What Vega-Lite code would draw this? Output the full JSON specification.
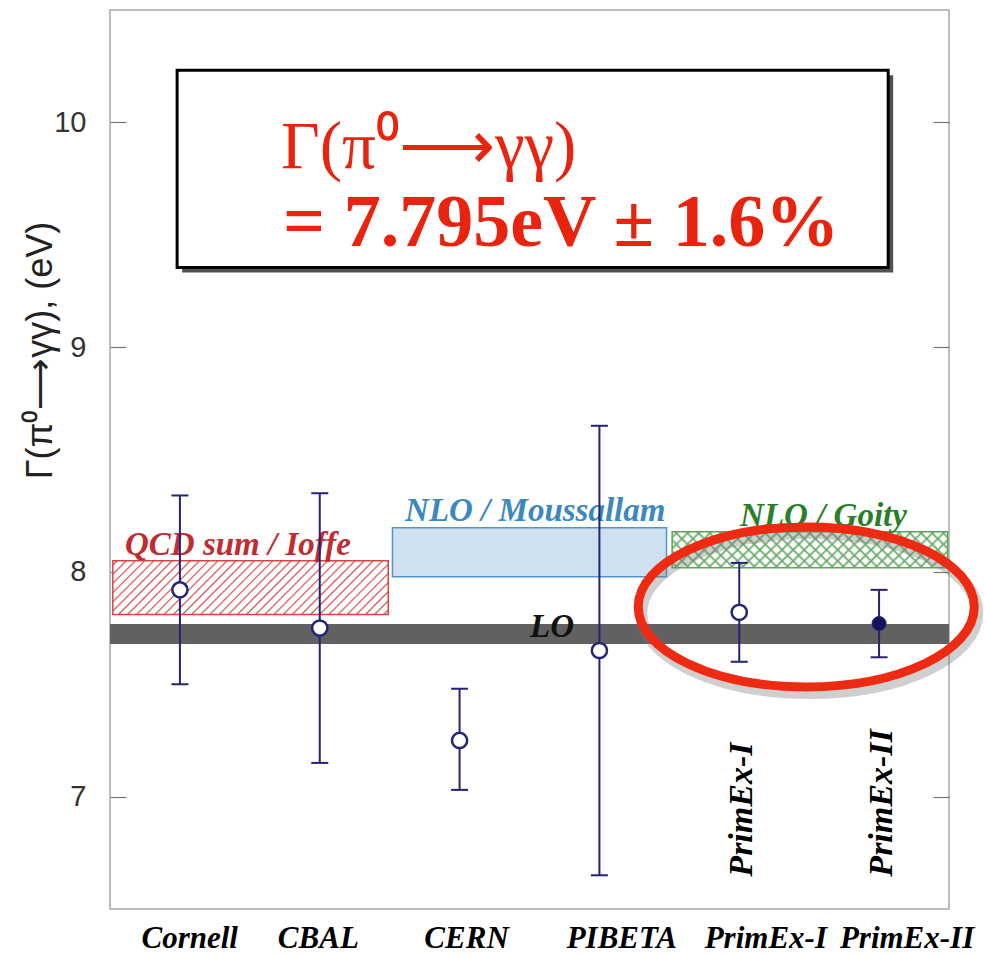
{
  "$schema": "https://vega.github.io/schema/vega-lite/v6.json",
  "width": 839,
  "height": 899,
  "autosize": {"type": "none"},
  "padding": {"left": 110, "top": 10, "right": 35, "bottom": 48},
  "background": "white",
  "config": {"view": {"stroke": "#a8a8a8", "strokeWidth": 1.5}},
  "datasets": {
    "meas": [
      {"exp": "Cornell", "x": 1, "y": 7.92, "lo": 7.5, "hi": 8.34},
      {"exp": "CBAL", "x": 2, "y": 7.75, "lo": 7.15, "hi": 8.35},
      {"exp": "CERN", "x": 3, "y": 7.25, "lo": 7.03, "hi": 7.48},
      {"exp": "PIBETA", "x": 4, "y": 7.65, "lo": 6.65, "hi": 8.65},
      {"exp": "PrimEx-I", "x": 5, "y": 7.82, "lo": 7.6, "hi": 8.04},
      {"exp": "PrimEx-II", "x": 6, "y": 7.77, "lo": 7.62, "hi": 7.92}
    ],
    "bands": [
      {"name": "QCD", "x": 0.52, "x2": 2.49, "y": 8.05, "y2": 7.81},
      {"name": "Moussallam", "x": 2.52, "x2": 4.48, "y": 8.196, "y2": 7.978},
      {"name": "Goity", "x": 4.52, "x2": 6.49, "y": 8.178, "y2": 8.018},
      {"name": "LO", "x": 0.5, "x2": 6.5, "y": 7.768, "y2": 7.679}
    ],
    "bandlabels": [
      {"name": "QCD", "text": "QCD sum / Ioffe", "x": 0.607, "y": 8.076},
      {"name": "Moussallam", "text": "NLO / Moussallam", "x": 2.61, "y": 8.227},
      {"name": "Goity", "text": "NLO / Goity", "x": 5.006, "y": 8.205},
      {"name": "LO", "text": "LO", "x": 3.504, "y": 7.71}
    ],
    "xlabels": [
      {"label": "Cornell", "x": 1.07, "y": 6.327},
      {"label": "CBAL", "x": 1.99, "y": 6.327},
      {"label": "CERN", "x": 3.05, "y": 6.327},
      {"label": "PIBETA", "x": 4.16, "y": 6.327},
      {"label": "PrimEx-I", "x": 5.19, "y": 6.327},
      {"label": "PrimEx-II", "x": 6.2, "y": 6.327}
    ],
    "vlabels": [
      {"label": "PrimEx-I", "x": 5.02, "y": 6.644},
      {"label": "PrimEx-II", "x": 6.02, "y": 6.644}
    ],
    "box": [{"x": 0.98, "x2": 6.065, "y": 10.232, "y2": 9.354}],
    "boxtext": [
      {"line": 1, "text": "Γ(π⁰⟶γγ)", "x": 1.723, "y": 9.795},
      {"line": 2, "text": "= 7.795eV ± 1.6%", "x": 1.737, "y": 9.452}
    ],
    "ellipse": [{"x": 5.479, "y": 7.844}]
  },
  "resolve": {"axis": {"y": "independent"}},
  "encoding": {
    "x": {"field": "x", "type": "quantitative", "scale": {"domain": [0.5, 6.5], "nice": false, "zero": false}, "axis": null},
    "y": {"field": "y", "type": "quantitative", "scale": {"domain": [6.5, 10.5], "nice": false, "zero": false}, "axis": null},
    "x2": {"field": "x2"},
    "y2": {"field": "y2"}
  },
  "layer": [
    {
      "data": {"name": "bands"},
      "transform": [{"filter": "datum.name === 'QCD'"}],
      "mark": {"type": "rect", "stroke": "#d84444", "strokeWidth": 1.5,
        "fill": {"gradient": "linear", "x1": 0, "y1": 0, "x2": 1.1515, "y2": 0.2253, "stops": [
          {"offset": 0.0089, "color": "#ffffff"}, {"offset": 0.0139, "color": "#dc4a4a"}, {"offset": 0.0189, "color": "#ffffff"},
          {"offset": 0.0367, "color": "#ffffff"}, {"offset": 0.0417, "color": "#dc4a4a"}, {"offset": 0.0467, "color": "#ffffff"},
          {"offset": 0.0644, "color": "#ffffff"}, {"offset": 0.0694, "color": "#dc4a4a"}, {"offset": 0.0744, "color": "#ffffff"},
          {"offset": 0.0922, "color": "#ffffff"}, {"offset": 0.0972, "color": "#dc4a4a"}, {"offset": 0.1022, "color": "#ffffff"},
          {"offset": 0.1200, "color": "#ffffff"}, {"offset": 0.1250, "color": "#dc4a4a"}, {"offset": 0.1300, "color": "#ffffff"},
          {"offset": 0.1478, "color": "#ffffff"}, {"offset": 0.1528, "color": "#dc4a4a"}, {"offset": 0.1578, "color": "#ffffff"},
          {"offset": 0.1756, "color": "#ffffff"}, {"offset": 0.1806, "color": "#dc4a4a"}, {"offset": 0.1856, "color": "#ffffff"},
          {"offset": 0.2033, "color": "#ffffff"}, {"offset": 0.2083, "color": "#dc4a4a"}, {"offset": 0.2133, "color": "#ffffff"},
          {"offset": 0.2311, "color": "#ffffff"}, {"offset": 0.2361, "color": "#dc4a4a"}, {"offset": 0.2411, "color": "#ffffff"},
          {"offset": 0.2589, "color": "#ffffff"}, {"offset": 0.2639, "color": "#dc4a4a"}, {"offset": 0.2689, "color": "#ffffff"},
          {"offset": 0.2867, "color": "#ffffff"}, {"offset": 0.2917, "color": "#dc4a4a"}, {"offset": 0.2967, "color": "#ffffff"},
          {"offset": 0.3144, "color": "#ffffff"}, {"offset": 0.3194, "color": "#dc4a4a"}, {"offset": 0.3244, "color": "#ffffff"},
          {"offset": 0.3422, "color": "#ffffff"}, {"offset": 0.3472, "color": "#dc4a4a"}, {"offset": 0.3522, "color": "#ffffff"},
          {"offset": 0.3700, "color": "#ffffff"}, {"offset": 0.3750, "color": "#dc4a4a"}, {"offset": 0.3800, "color": "#ffffff"},
          {"offset": 0.3978, "color": "#ffffff"}, {"offset": 0.4028, "color": "#dc4a4a"}, {"offset": 0.4078, "color": "#ffffff"},
          {"offset": 0.4256, "color": "#ffffff"}, {"offset": 0.4306, "color": "#dc4a4a"}, {"offset": 0.4356, "color": "#ffffff"},
          {"offset": 0.4533, "color": "#ffffff"}, {"offset": 0.4583, "color": "#dc4a4a"}, {"offset": 0.4633, "color": "#ffffff"},
          {"offset": 0.4811, "color": "#ffffff"}, {"offset": 0.4861, "color": "#dc4a4a"}, {"offset": 0.4911, "color": "#ffffff"},
          {"offset": 0.5089, "color": "#ffffff"}, {"offset": 0.5139, "color": "#dc4a4a"}, {"offset": 0.5189, "color": "#ffffff"},
          {"offset": 0.5367, "color": "#ffffff"}, {"offset": 0.5417, "color": "#dc4a4a"}, {"offset": 0.5467, "color": "#ffffff"},
          {"offset": 0.5644, "color": "#ffffff"}, {"offset": 0.5694, "color": "#dc4a4a"}, {"offset": 0.5744, "color": "#ffffff"},
          {"offset": 0.5922, "color": "#ffffff"}, {"offset": 0.5972, "color": "#dc4a4a"}, {"offset": 0.6022, "color": "#ffffff"},
          {"offset": 0.6200, "color": "#ffffff"}, {"offset": 0.6250, "color": "#dc4a4a"}, {"offset": 0.6300, "color": "#ffffff"},
          {"offset": 0.6478, "color": "#ffffff"}, {"offset": 0.6528, "color": "#dc4a4a"}, {"offset": 0.6578, "color": "#ffffff"},
          {"offset": 0.6756, "color": "#ffffff"}, {"offset": 0.6806, "color": "#dc4a4a"}, {"offset": 0.6856, "color": "#ffffff"},
          {"offset": 0.7033, "color": "#ffffff"}, {"offset": 0.7083, "color": "#dc4a4a"}, {"offset": 0.7133, "color": "#ffffff"},
          {"offset": 0.7311, "color": "#ffffff"}, {"offset": 0.7361, "color": "#dc4a4a"}, {"offset": 0.7411, "color": "#ffffff"},
          {"offset": 0.7589, "color": "#ffffff"}, {"offset": 0.7639, "color": "#dc4a4a"}, {"offset": 0.7689, "color": "#ffffff"},
          {"offset": 0.7867, "color": "#ffffff"}, {"offset": 0.7917, "color": "#dc4a4a"}, {"offset": 0.7967, "color": "#ffffff"},
          {"offset": 0.8144, "color": "#ffffff"}, {"offset": 0.8194, "color": "#dc4a4a"}, {"offset": 0.8244, "color": "#ffffff"},
          {"offset": 0.8422, "color": "#ffffff"}, {"offset": 0.8472, "color": "#dc4a4a"}, {"offset": 0.8522, "color": "#ffffff"},
          {"offset": 0.8700, "color": "#ffffff"}, {"offset": 0.8750, "color": "#dc4a4a"}, {"offset": 0.8800, "color": "#ffffff"},
          {"offset": 0.8978, "color": "#ffffff"}, {"offset": 0.9028, "color": "#dc4a4a"}, {"offset": 0.9078, "color": "#ffffff"},
          {"offset": 0.9256, "color": "#ffffff"}, {"offset": 0.9306, "color": "#dc4a4a"}, {"offset": 0.9356, "color": "#ffffff"},
          {"offset": 0.9533, "color": "#ffffff"}, {"offset": 0.9583, "color": "#dc4a4a"}, {"offset": 0.9633, "color": "#ffffff"},
          {"offset": 0.9811, "color": "#ffffff"}, {"offset": 0.9861, "color": "#dc4a4a"}, {"offset": 0.9911, "color": "#ffffff"}
        ]}},
      "encoding": {
        "y": {"field": "y", "type": "quantitative", "scale": {"domain": [6.5, 10.5], "nice": false, "zero": false},
          "axis": {"orient": "left", "values": [7, 8, 9, 10], "grid": false, "domain": false, "tickSize": -16, "tickColor": "#777", "tickWidth": 1.2, "labelPadding": 40, "labelFont": "Liberation Sans", "labelFontSize": 29, "labelColor": "#333",
            "title": "Γ(π⁰⟶γγ), (eV)", "titleFont": "Liberation Sans", "titleFontSize": 36, "titleFontWeight": "normal", "titleColor": "#222", "titleAngle": -90, "titleAlign": "center", "titleBaseline": "middle", "titleX": -70, "titleY": 340}}
      }
    },
    {
      "data": {"name": "bands"},
      "transform": [{"filter": "datum.name === 'Moussallam'"}],
      "mark": {"type": "rect", "fill": "#cfe1f1", "stroke": "#4f95c9", "strokeWidth": 1.5}
    },
    {
      "data": {"name": "bands"},
      "transform": [{"filter": "datum.name === 'Goity'"}],
      "mark": {"type": "rect", "stroke": "#5aa55a", "strokeWidth": 1.5,
        "fill": {"gradient": "linear", "x1": 0, "y1": 0, "x2": 1.1118, "y2": 0.1455, "stops": [
          {"offset": 0.0099, "color": "#ffffff"}, {"offset": 0.0179, "color": "#6aaa6a"}, {"offset": 0.0259, "color": "#ffffff"},
          {"offset": 0.0456, "color": "#ffffff"}, {"offset": 0.0536, "color": "#6aaa6a"}, {"offset": 0.0616, "color": "#ffffff"},
          {"offset": 0.0813, "color": "#ffffff"}, {"offset": 0.0893, "color": "#6aaa6a"}, {"offset": 0.0973, "color": "#ffffff"},
          {"offset": 0.1170, "color": "#ffffff"}, {"offset": 0.1250, "color": "#6aaa6a"}, {"offset": 0.1330, "color": "#ffffff"},
          {"offset": 0.1527, "color": "#ffffff"}, {"offset": 0.1607, "color": "#6aaa6a"}, {"offset": 0.1687, "color": "#ffffff"},
          {"offset": 0.1884, "color": "#ffffff"}, {"offset": 0.1964, "color": "#6aaa6a"}, {"offset": 0.2044, "color": "#ffffff"},
          {"offset": 0.2241, "color": "#ffffff"}, {"offset": 0.2321, "color": "#6aaa6a"}, {"offset": 0.2401, "color": "#ffffff"},
          {"offset": 0.2599, "color": "#ffffff"}, {"offset": 0.2679, "color": "#6aaa6a"}, {"offset": 0.2759, "color": "#ffffff"},
          {"offset": 0.2956, "color": "#ffffff"}, {"offset": 0.3036, "color": "#6aaa6a"}, {"offset": 0.3116, "color": "#ffffff"},
          {"offset": 0.3313, "color": "#ffffff"}, {"offset": 0.3393, "color": "#6aaa6a"}, {"offset": 0.3473, "color": "#ffffff"},
          {"offset": 0.3670, "color": "#ffffff"}, {"offset": 0.3750, "color": "#6aaa6a"}, {"offset": 0.3830, "color": "#ffffff"},
          {"offset": 0.4027, "color": "#ffffff"}, {"offset": 0.4107, "color": "#6aaa6a"}, {"offset": 0.4187, "color": "#ffffff"},
          {"offset": 0.4384, "color": "#ffffff"}, {"offset": 0.4464, "color": "#6aaa6a"}, {"offset": 0.4544, "color": "#ffffff"},
          {"offset": 0.4741, "color": "#ffffff"}, {"offset": 0.4821, "color": "#6aaa6a"}, {"offset": 0.4901, "color": "#ffffff"},
          {"offset": 0.5099, "color": "#ffffff"}, {"offset": 0.5179, "color": "#6aaa6a"}, {"offset": 0.5259, "color": "#ffffff"},
          {"offset": 0.5456, "color": "#ffffff"}, {"offset": 0.5536, "color": "#6aaa6a"}, {"offset": 0.5616, "color": "#ffffff"},
          {"offset": 0.5813, "color": "#ffffff"}, {"offset": 0.5893, "color": "#6aaa6a"}, {"offset": 0.5973, "color": "#ffffff"},
          {"offset": 0.6170, "color": "#ffffff"}, {"offset": 0.6250, "color": "#6aaa6a"}, {"offset": 0.6330, "color": "#ffffff"},
          {"offset": 0.6527, "color": "#ffffff"}, {"offset": 0.6607, "color": "#6aaa6a"}, {"offset": 0.6687, "color": "#ffffff"},
          {"offset": 0.6884, "color": "#ffffff"}, {"offset": 0.6964, "color": "#6aaa6a"}, {"offset": 0.7044, "color": "#ffffff"},
          {"offset": 0.7241, "color": "#ffffff"}, {"offset": 0.7321, "color": "#6aaa6a"}, {"offset": 0.7401, "color": "#ffffff"},
          {"offset": 0.7599, "color": "#ffffff"}, {"offset": 0.7679, "color": "#6aaa6a"}, {"offset": 0.7759, "color": "#ffffff"},
          {"offset": 0.7956, "color": "#ffffff"}, {"offset": 0.8036, "color": "#6aaa6a"}, {"offset": 0.8116, "color": "#ffffff"},
          {"offset": 0.8313, "color": "#ffffff"}, {"offset": 0.8393, "color": "#6aaa6a"}, {"offset": 0.8473, "color": "#ffffff"},
          {"offset": 0.8670, "color": "#ffffff"}, {"offset": 0.8750, "color": "#6aaa6a"}, {"offset": 0.8830, "color": "#ffffff"},
          {"offset": 0.9027, "color": "#ffffff"}, {"offset": 0.9107, "color": "#6aaa6a"}, {"offset": 0.9187, "color": "#ffffff"},
          {"offset": 0.9384, "color": "#ffffff"}, {"offset": 0.9464, "color": "#6aaa6a"}, {"offset": 0.9544, "color": "#ffffff"},
          {"offset": 0.9741, "color": "#ffffff"}, {"offset": 0.9821, "color": "#6aaa6a"}, {"offset": 0.9901, "color": "#ffffff"}
        ]}}
    },
    {
      "data": {"name": "bands"},
      "transform": [{"filter": "datum.name === 'Goity'"}],
      "mark": {"type": "rect",
        "fill": {"gradient": "linear", "x1": 0, "y1": 1, "x2": 1.1118, "y2": 0.8545, "stops": [
          {"offset": 0.0099, "color": "rgba(106,170,106,0)"}, {"offset": 0.0179, "color": "rgba(106,170,106,1)"}, {"offset": 0.0259, "color": "rgba(106,170,106,0)"},
          {"offset": 0.0456, "color": "rgba(106,170,106,0)"}, {"offset": 0.0536, "color": "rgba(106,170,106,1)"}, {"offset": 0.0616, "color": "rgba(106,170,106,0)"},
          {"offset": 0.0813, "color": "rgba(106,170,106,0)"}, {"offset": 0.0893, "color": "rgba(106,170,106,1)"}, {"offset": 0.0973, "color": "rgba(106,170,106,0)"},
          {"offset": 0.1170, "color": "rgba(106,170,106,0)"}, {"offset": 0.1250, "color": "rgba(106,170,106,1)"}, {"offset": 0.1330, "color": "rgba(106,170,106,0)"},
          {"offset": 0.1527, "color": "rgba(106,170,106,0)"}, {"offset": 0.1607, "color": "rgba(106,170,106,1)"}, {"offset": 0.1687, "color": "rgba(106,170,106,0)"},
          {"offset": 0.1884, "color": "rgba(106,170,106,0)"}, {"offset": 0.1964, "color": "rgba(106,170,106,1)"}, {"offset": 0.2044, "color": "rgba(106,170,106,0)"},
          {"offset": 0.2241, "color": "rgba(106,170,106,0)"}, {"offset": 0.2321, "color": "rgba(106,170,106,1)"}, {"offset": 0.2401, "color": "rgba(106,170,106,0)"},
          {"offset": 0.2599, "color": "rgba(106,170,106,0)"}, {"offset": 0.2679, "color": "rgba(106,170,106,1)"}, {"offset": 0.2759, "color": "rgba(106,170,106,0)"},
          {"offset": 0.2956, "color": "rgba(106,170,106,0)"}, {"offset": 0.3036, "color": "rgba(106,170,106,1)"}, {"offset": 0.3116, "color": "rgba(106,170,106,0)"},
          {"offset": 0.3313, "color": "rgba(106,170,106,0)"}, {"offset": 0.3393, "color": "rgba(106,170,106,1)"}, {"offset": 0.3473, "color": "rgba(106,170,106,0)"},
          {"offset": 0.3670, "color": "rgba(106,170,106,0)"}, {"offset": 0.3750, "color": "rgba(106,170,106,1)"}, {"offset": 0.3830, "color": "rgba(106,170,106,0)"},
          {"offset": 0.4027, "color": "rgba(106,170,106,0)"}, {"offset": 0.4107, "color": "rgba(106,170,106,1)"}, {"offset": 0.4187, "color": "rgba(106,170,106,0)"},
          {"offset": 0.4384, "color": "rgba(106,170,106,0)"}, {"offset": 0.4464, "color": "rgba(106,170,106,1)"}, {"offset": 0.4544, "color": "rgba(106,170,106,0)"},
          {"offset": 0.4741, "color": "rgba(106,170,106,0)"}, {"offset": 0.4821, "color": "rgba(106,170,106,1)"}, {"offset": 0.4901, "color": "rgba(106,170,106,0)"},
          {"offset": 0.5099, "color": "rgba(106,170,106,0)"}, {"offset": 0.5179, "color": "rgba(106,170,106,1)"}, {"offset": 0.5259, "color": "rgba(106,170,106,0)"},
          {"offset": 0.5456, "color": "rgba(106,170,106,0)"}, {"offset": 0.5536, "color": "rgba(106,170,106,1)"}, {"offset": 0.5616, "color": "rgba(106,170,106,0)"},
          {"offset": 0.5813, "color": "rgba(106,170,106,0)"}, {"offset": 0.5893, "color": "rgba(106,170,106,1)"}, {"offset": 0.5973, "color": "rgba(106,170,106,0)"},
          {"offset": 0.6170, "color": "rgba(106,170,106,0)"}, {"offset": 0.6250, "color": "rgba(106,170,106,1)"}, {"offset": 0.6330, "color": "rgba(106,170,106,0)"},
          {"offset": 0.6527, "color": "rgba(106,170,106,0)"}, {"offset": 0.6607, "color": "rgba(106,170,106,1)"}, {"offset": 0.6687, "color": "rgba(106,170,106,0)"},
          {"offset": 0.6884, "color": "rgba(106,170,106,0)"}, {"offset": 0.6964, "color": "rgba(106,170,106,1)"}, {"offset": 0.7044, "color": "rgba(106,170,106,0)"},
          {"offset": 0.7241, "color": "rgba(106,170,106,0)"}, {"offset": 0.7321, "color": "rgba(106,170,106,1)"}, {"offset": 0.7401, "color": "rgba(106,170,106,0)"},
          {"offset": 0.7599, "color": "rgba(106,170,106,0)"}, {"offset": 0.7679, "color": "rgba(106,170,106,1)"}, {"offset": 0.7759, "color": "rgba(106,170,106,0)"},
          {"offset": 0.7956, "color": "rgba(106,170,106,0)"}, {"offset": 0.8036, "color": "rgba(106,170,106,1)"}, {"offset": 0.8116, "color": "rgba(106,170,106,0)"},
          {"offset": 0.8313, "color": "rgba(106,170,106,0)"}, {"offset": 0.8393, "color": "rgba(106,170,106,1)"}, {"offset": 0.8473, "color": "rgba(106,170,106,0)"},
          {"offset": 0.8670, "color": "rgba(106,170,106,0)"}, {"offset": 0.8750, "color": "rgba(106,170,106,1)"}, {"offset": 0.8830, "color": "rgba(106,170,106,0)"},
          {"offset": 0.9027, "color": "rgba(106,170,106,0)"}, {"offset": 0.9107, "color": "rgba(106,170,106,1)"}, {"offset": 0.9187, "color": "rgba(106,170,106,0)"},
          {"offset": 0.9384, "color": "rgba(106,170,106,0)"}, {"offset": 0.9464, "color": "rgba(106,170,106,1)"}, {"offset": 0.9544, "color": "rgba(106,170,106,0)"},
          {"offset": 0.9741, "color": "rgba(106,170,106,0)"}, {"offset": 0.9821, "color": "rgba(106,170,106,1)"}, {"offset": 0.9901, "color": "rgba(106,170,106,0)"}
        ]}}
    },
    {
      "data": {"name": "bands"},
      "transform": [{"filter": "datum.name === 'LO'"}],
      "mark": {"type": "rect", "fill": "#616161"}
    },
    {
      "data": {"name": "bandlabels"},
      "mark": {"type": "text", "align": "left", "baseline": "alphabetic", "font": "Liberation Serif", "fontStyle": "italic", "fontWeight": "bold", "fontSize": 33},
      "encoding": {
        "y": {"field": "y", "type": "quantitative", "scale": {"domain": [6.5, 10.5], "nice": false, "zero": false},
          "axis": {"orient": "right", "values": [7, 8, 9, 10], "grid": false, "domain": false, "labels": false, "tickSize": -16, "tickColor": "#777", "tickWidth": 1.2, "title": null}},
        "x2": null, "y2": null,
        "text": {"field": "text"},
        "color": {"field": "name", "type": "nominal", "legend": null, "scale": {"domain": ["QCD", "Moussallam", "Goity", "LO"], "range": ["#bf2d33", "#3d88be", "#2a7f2a", "#111111"]}}
      }
    },
    {
      "data": {"name": "meas"},
      "mark": {"type": "rule", "color": "#232378", "strokeWidth": 2},
      "encoding": {
        "y": {"field": "lo", "type": "quantitative", "scale": {"domain": [6.5, 10.5], "nice": false, "zero": false}, "axis": null},
        "y2": {"field": "hi"}, "x2": null
      }
    },
    {
      "data": {"name": "meas"},
      "mark": {"type": "tick", "orient": "horizontal", "color": "#232378", "size": 17, "thickness": 2, "opacity": 1},
      "encoding": {
        "y": {"field": "lo", "type": "quantitative", "scale": {"domain": [6.5, 10.5], "nice": false, "zero": false}, "axis": null},
        "x2": null, "y2": null
      }
    },
    {
      "data": {"name": "meas"},
      "mark": {"type": "tick", "orient": "horizontal", "color": "#232378", "size": 17, "thickness": 2, "opacity": 1},
      "encoding": {
        "y": {"field": "hi", "type": "quantitative", "scale": {"domain": [6.5, 10.5], "nice": false, "zero": false}, "axis": null},
        "x2": null, "y2": null
      }
    },
    {
      "data": {"name": "meas"},
      "transform": [{"filter": "datum.exp !== 'PrimEx-II'"}],
      "mark": {"type": "point", "shape": "circle", "size": 230, "filled": true, "fill": "white", "stroke": "#232378", "strokeWidth": 2.5, "opacity": 1},
      "encoding": {"x2": null, "y2": null}
    },
    {
      "data": {"name": "meas"},
      "transform": [{"filter": "datum.exp === 'PrimEx-II'"}],
      "mark": {"type": "point", "shape": "circle", "size": 200, "filled": true, "fill": "#14145a", "stroke": "#232378", "strokeWidth": 1, "opacity": 1},
      "encoding": {"x2": null, "y2": null}
    },
    {
      "data": {"name": "box"},
      "mark": {"type": "rect", "fill": "#333333", "opacity": 0.85, "xOffset": 5, "x2Offset": 5, "yOffset": 5, "y2Offset": 5}
    },
    {
      "data": {"name": "box"},
      "mark": {"type": "rect", "fill": "white", "stroke": "black", "strokeWidth": 3}
    },
    {
      "data": {"name": "boxtext"},
      "transform": [{"filter": "datum.line === 1"}],
      "mark": {"type": "text", "align": "left", "baseline": "alphabetic", "font": "Liberation Serif", "fontSize": 67, "color": "#e8240f"},
      "encoding": {"text": {"field": "text"}, "x2": null, "y2": null}
    },
    {
      "data": {"name": "boxtext"},
      "transform": [{"filter": "datum.line === 2"}],
      "mark": {"type": "text", "align": "left", "baseline": "alphabetic", "font": "Liberation Serif", "fontWeight": "bold", "fontSize": 74, "color": "#e8240f"},
      "encoding": {"text": {"field": "text"}, "x2": null, "y2": null}
    },
    {
      "data": {"name": "ellipse"},
      "mark": {"type": "point", "shape": "M -1 0 A 1 0.476 0 1 0 1 0 A 1 0.476 0 1 0 -1 0 Z", "size": 112896, "filled": false, "stroke": "#777777", "strokeWidth": 12, "opacity": 0.35, "xOffset": 3, "yOffset": 6},
      "encoding": {"x2": null, "y2": null}
    },
    {
      "data": {"name": "ellipse"},
      "mark": {"type": "point", "shape": "M -1 0 A 1 0.476 0 1 0 1 0 A 1 0.476 0 1 0 -1 0 Z", "size": 112896, "filled": false, "stroke": "#ee2a12", "strokeWidth": 9, "opacity": 1},
      "encoding": {"x2": null, "y2": null}
    },
    {
      "data": {"name": "vlabels"},
      "mark": {"type": "text", "angle": 270, "align": "left", "baseline": "middle", "font": "Liberation Serif", "fontStyle": "italic", "fontWeight": "bold", "fontSize": 34, "color": "black"},
      "encoding": {"text": {"field": "label"}, "x2": null, "y2": null}
    },
    {
      "data": {"name": "xlabels"},
      "mark": {"type": "text", "align": "center", "baseline": "alphabetic", "font": "Liberation Serif", "fontStyle": "italic", "fontWeight": "bold", "fontSize": 31, "color": "black"},
      "encoding": {"text": {"field": "label"}, "x2": null, "y2": null}
    }
  ]
}
